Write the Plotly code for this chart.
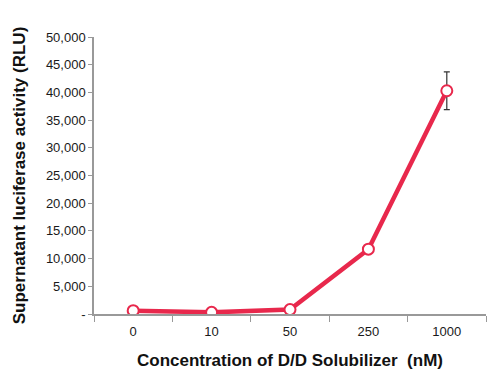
import plotly.graph_objects as go

categories = ["0", "10", "50", "250", "1000"]
values = [600, 300, 800, 11700, 40300]
errors = [0, 0, 0, 0, 3400]
ytick_vals = [0, 5000, 10000, 15000, 20000, 25000, 30000, 35000, 40000, 45000, 50000]
ytick_text = ["-"] + [f"{v:,}" for v in ytick_vals[1:]]

fig = go.Figure()
fig.add_trace(go.Scatter(
    x=categories, y=values, mode="lines+markers",
    line=dict(color="#E8284C", width=4.5),
    marker=dict(size=11, color="white", line=dict(color="#E8284C", width=2)),
    error_y=dict(type="data", array=errors, visible=True, color="#333333", thickness=1.2, width=3),
    showlegend=False,
))

fig.update_layout(
    width=500, height=388,
    margin=dict(l=94, r=14, t=37, b=74),
    paper_bgcolor="white", plot_bgcolor="white",
    font=dict(family="Liberation Sans, Arial, sans-serif", color="#111111"),
)
fig.update_xaxes(
    type="category", range=[-0.5, 4.5], tickson="boundaries",
    ticks="outside", ticklen=6, tickcolor="#999999",
    showline=True, linecolor="#999999", linewidth=1.5,
    showgrid=False, zeroline=False, automargin=False,
    ticklabelstandoff=5,
    tickfont=dict(size=13, color="#1a1a1a"),
    title=dict(text="<b>Concentration of D/D Solubilizer  (nM)</b>", font=dict(size=17, color="#111111"), standoff=16),
)
fig.update_yaxes(
    range=[0, 50000], tickvals=ytick_vals, ticktext=ytick_text,
    ticks="outside", ticklen=4, tickcolor="#999999",
    showline=True, linecolor="#999999", linewidth=1.5,
    showgrid=False, zeroline=False, automargin=False,
    tickfont=dict(size=13, color="#1a1a1a"),
    title=dict(text="<b>Supernatant luciferase activity (RLU)</b>", font=dict(size=17, color="#111111"), standoff=16),
)

fig.write_html("out.html", config={"displayModeBar": False},
               post_script="document.body.style.margin='0';document.body.style.overflow='hidden';")
